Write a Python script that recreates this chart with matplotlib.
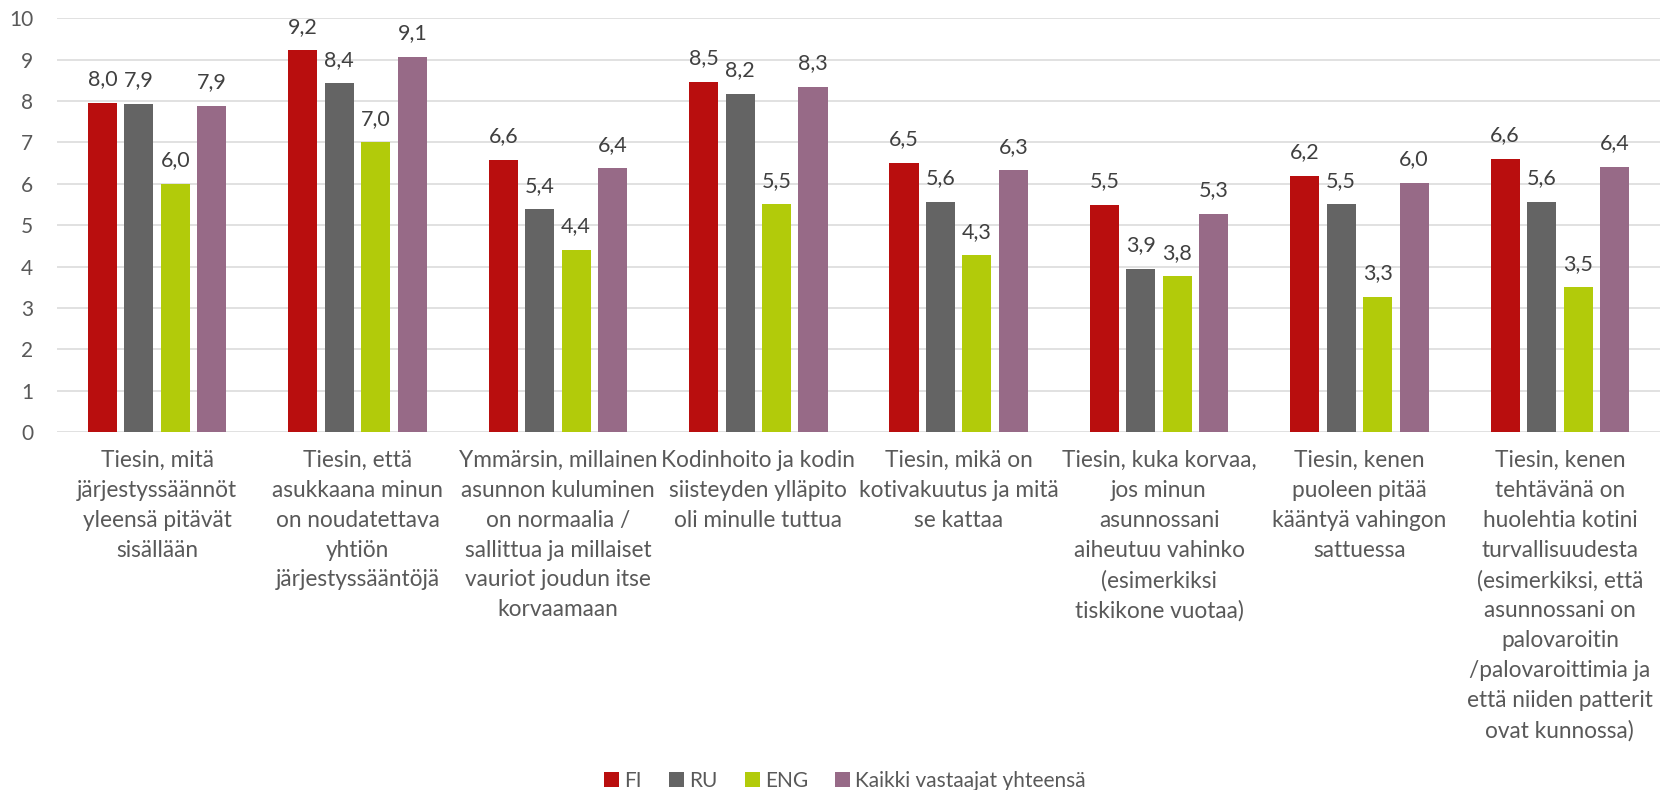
import numpy as np
import matplotlib
matplotlib.use('Agg')
import matplotlib.pyplot as plt

categories = [
	'Tiesin, mitä\njärjestyssäännöt\nyleensä pitävät\nsisällään',
	'Tiesin, että\nasukkaana minun\non noudatettava\nyhtiön\njärjestyssääntöjä',
	'Ymmärsin, millainen\nasunnon kuluminen\non normaalia /\nsallittua ja millaiset\nvauriot joudun itse\nkorvaamaan',
	'Kodinhoito ja kodin\nsiisteyden ylläpito\noli minulle tuttua',
	'Tiesin, mikä on\nkotivakuutus ja mitä\nse kattaa',
	'Tiesin, kuka korvaa,\njos minun\nasunnossani\naiheutuu vahinko\n(esimerkiksi\ntiskikone vuotaa)',
	'Tiesin, kenen\npuoleen pitää\nkääntyä vahingon\nsattuessa',
	'Tiesin, kenen\ntehtävänä on\nhuolehtia kotini\nturvallisuudesta\n(esimerkiksi, että\nasunnossani on\npalovaroitin\n/palovaroittimia ja\nettä niiden patterit\novat kunnossa)',
]
fi = [7.96, 9.23, 6.58, 8.46, 6.51, 5.49, 6.19, 6.61]
ru = [7.94, 8.43, 5.38, 8.17, 5.56, 3.94, 5.50, 5.56]
eng = [6.00, 7.00, 4.40, 5.50, 4.27, 3.76, 3.27, 3.50]
kaikki = [7.88, 9.07, 6.37, 8.34, 6.33, 5.27, 6.03, 6.41]
series_names = ['FI', 'RU', 'ENG', 'Kaikki vastaajat yhteensä']
colors = ['#B90E0E', '#646464', '#B2CB0A', '#976A87']


def main():
	plt.rcParams['font.family'] = ['Lato', 'DejaVu Sans']
	fig = plt.figure(figsize=(16.6, 7.9), dpi=100)
	ax = fig.add_axes([57 / 1660, 1 - 432 / 790, 1 - 57 / 1660, (432 - 18.3) / 790])

	x = np.arange(len(categories))
	step = 0.182
	width = 0.145
	for i, (vals, name, col) in enumerate(zip([fi, ru, eng, kaikki], series_names, colors)):
		pos = x + (i - 1.5) * step
		bars = ax.bar(pos, vals, width=width, color=col, label=name, zorder=3)
		for b, v in zip(bars, vals):
			ax.annotate(('%.1f' % v).replace('.', ','), (b.get_x() + b.get_width() / 2, v),
						xytext=(0, 12.6), textcoords='offset points', ha='center', va='baseline',
						fontsize=15.5, color='#404040')

	ax.set_xlim(-0.5, len(categories) - 0.5)
	ax.set_ylim(0, 10)
	ax.set_yticks(range(0, 11))
	ax.yaxis.grid(True, color='#D9D9D9', lw=1.1, zorder=0)
	for s in ax.spines.values():
		s.set_visible(False)
	ax.tick_params(axis='y', length=0, pad=17, labelsize=15, labelcolor='#595959')
	ax.tick_params(axis='x', length=0, pad=13, labelsize=16.3, labelcolor='#595959')
	ax.set_xticks(x)
	ax.set_xticklabels(categories, linespacing=1.52)

	handles, labels = ax.get_legend_handles_labels()
	fig.legend(handles, labels, ncol=4, loc='center', bbox_to_anchor=(845 / 1660, 9 / 790),
			   frameon=False, fontsize=15, labelcolor='#595959', handlelength=0.72, handleheight=0.72,
			   handletextpad=0.25, columnspacing=1.3)

	fig.savefig('out.png', dpi=100)


if __name__ == '__main__':
	main()
